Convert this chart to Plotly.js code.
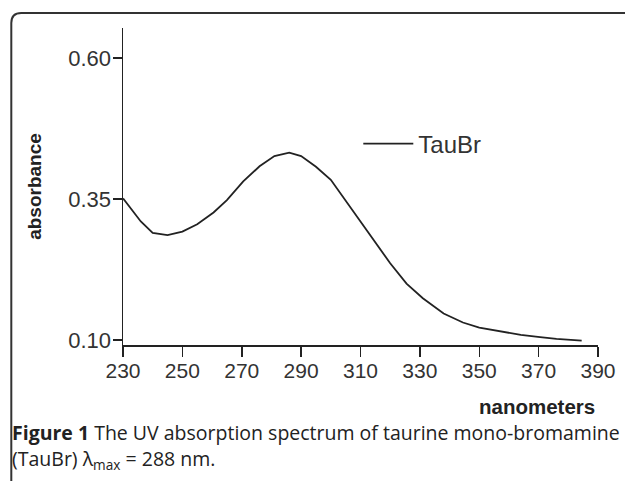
<!DOCTYPE html>
<html>
<head>
<meta charset="utf-8">
<script src="https://cdn.plot.ly/plotly-3.0.1.min.js"></script>
<style>
  html, body { margin: 0; padding: 0; background: #fff; }
  #chart { width: 625px; height: 481px; }
</style>
</head>
<body>
<div id="chart"></div>
<script>
// ---- data ----
const wavelength = [230, 232.5, 236, 240, 245, 250, 255, 260.5, 265, 270.5, 276, 281, 286, 290, 295, 300, 304, 310, 315.5, 320, 325.5, 331, 338, 344.5, 350, 357, 364, 370.5, 376, 384.5];
const absorbance = [0.351, 0.334, 0.310, 0.290, 0.286, 0.292, 0.305, 0.326, 0.348, 0.381, 0.408, 0.426, 0.432, 0.426, 0.407, 0.384, 0.354, 0.310, 0.268, 0.236, 0.200, 0.174, 0.147, 0.131, 0.122, 0.115, 0.109, 0.105, 0.102, 0.099];
const seriesName = 'TauBr';
const xTicks = [230, 250, 270, 290, 310, 330, 350, 370, 390];
const yTicks = [0.10, 0.35, 0.60];
const xTitle = 'nanometers';
const yTitle = 'absorbance';
const captionBold = 'Figure 1';
const captionLine1 = 'The UV absorption spectrum of taurine mono-bromamine';
const captionLine2 = '(TauBr) λ<sub>max</sub> = 288 nm.';

// ---- layout geometry (pixels) ----
const W = 625, H = 481;
const M = { l: 122.7, r: 27.3, t: 28, b: 136 };
const PW = W - M.l - M.r, PH = H - M.t - M.b;
const px = X => (X - M.l) / PW;
const py = Y => 1 - (Y - M.t) / PH;

const ink = '#222';
const grey = '#333';

const trace = {
  x: wavelength,
  y: absorbance,
  type: 'scatter',
  mode: 'lines',
  name: seriesName,
  line: { color: ink, width: 1.8 },
  hoverinfo: 'x+y'
};

// frame with rounded top-left corner, running off the right and bottom edges
const r = 10;
const framePath = `M ${px(11)},${py(500)} L ${px(11)},${py(13 + r)} Q ${px(11)},${py(13)} ${px(11 + r)},${py(13)} L ${px(640)},${py(13)}`;

const layout = {
  width: W, height: H,
  margin: M,
  paper_bgcolor: '#fff',
  plot_bgcolor: '#fff',
  font: { family: 'Liberation Sans, Arial, sans-serif', color: grey },
  showlegend: true,
  legend: {
    x: px(358), y: py(144), xanchor: 'left', yanchor: 'middle',
    font: { size: 24, color: grey, family: 'Liberation Sans, Arial, sans-serif' },
    bgcolor: 'rgba(0,0,0,0)',
    itemwidth: 50
  },
  xaxis: {
    range: [230, 390],
    tickvals: xTicks,
    ticks: 'outside', ticklen: 10, tickwidth: 1.5, tickcolor: ink,
    showline: true, linecolor: ink, linewidth: 1.5,
    showgrid: false, zeroline: false,
    ticklabelstandoff: -4,
    tickfont: { size: 21, color: grey }
  },
  yaxis: {
    range: [0.0911, 0.653],
    tickvals: yTicks,
    tickformat: '.2f',
    ticks: 'outside', ticklen: 9, tickwidth: 1.5, tickcolor: ink,
    showline: true, linecolor: ink, linewidth: 1.5,
    showgrid: false, zeroline: false,
    ticklabelstandoff: -3,
    tickfont: { size: 22, color: grey },
    title: { text: '<b>' + yTitle + '</b>', font: { size: 19, color: ink }, standoff: 21 }
  },
  shapes: [{
    type: 'path', xref: 'paper', yref: 'paper',
    path: framePath,
    line: { color: '#333', width: 2 }
  }],
  annotations: [
    {
      xref: 'paper', yref: 'paper', x: px(597), y: py(407),
      xanchor: 'right', yanchor: 'middle', showarrow: false,
      text: '<b>' + xTitle + '</b>',
      font: { size: 20.5, color: ink, family: 'Liberation Sans, Arial, sans-serif' }
    },
    {
      xref: 'paper', yref: 'paper', x: px(10), y: py(432),
      xanchor: 'left', yanchor: 'middle', showarrow: false, align: 'left',
      text: '<b>' + captionBold + '</b> ' + captionLine1,
      font: { size: 19.5, color: ink, family: 'Open Sans, Noto Sans, sans-serif' }
    },
    {
      xref: 'paper', yref: 'paper', x: px(10), y: py(459),
      xanchor: 'left', yanchor: 'middle', showarrow: false, align: 'left',
      text: captionLine2,
      font: { size: 19.5, color: ink, family: 'Open Sans, Noto Sans, sans-serif' }
    }
  ]
};

Plotly.newPlot('chart', [trace], layout, { staticPlot: true, displayModeBar: false });
</script>
</body>
</html>
